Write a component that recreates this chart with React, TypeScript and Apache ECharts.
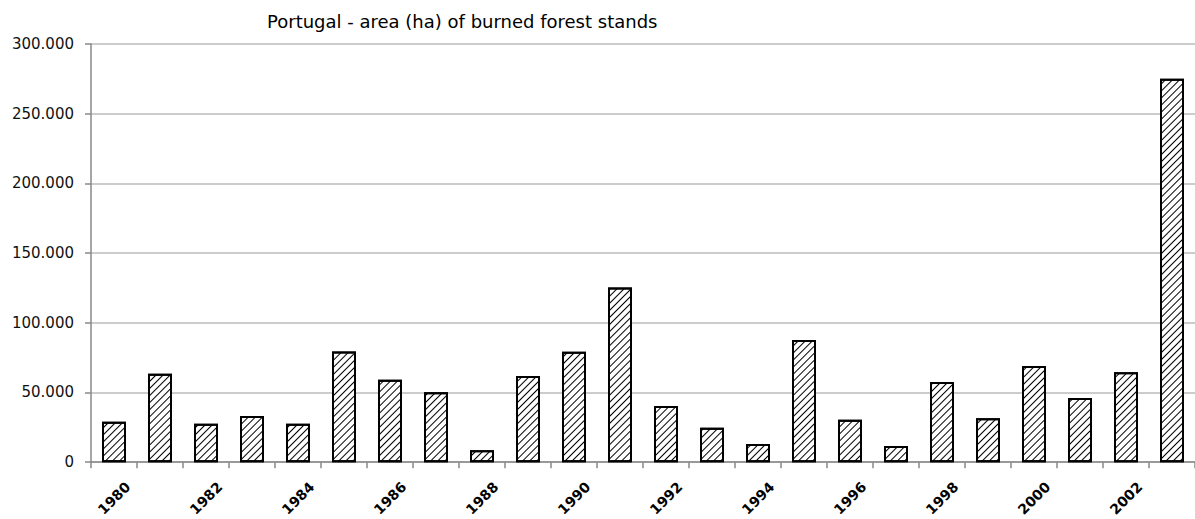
import React, { useEffect, useRef } from "react";
import * as echarts from "echarts";

const years: string[] = [
  "1980", "1981", "1982", "1983", "1984", "1985", "1986", "1987",
  "1988", "1989", "1990", "1991", "1992", "1993", "1994", "1995",
  "1996", "1997", "1998", "1999", "2000", "2001", "2002", "2003",
];

const burnedArea: number[] = [
  29000, 63400, 27600, 33100, 27500, 79300, 59100, 50200,
  8600, 61800, 79200, 125300, 40300, 24600, 13100, 87600,
  30500, 11500, 57500, 31500, 69000, 46100, 64500, 275000,
];

const titleText = "Portugal - area (ha) of burned forest stands";

export default function App() {
  const ref = useRef<HTMLDivElement>(null);
  useEffect(() => {
    if (!ref.current) return;
    const chart = echarts.init(ref.current, null, { renderer: "svg" });
    chart.setOption({
      animation: false,
      backgroundColor: "#fff",
      title: {
        text: titleText,
        left: 262,
        top: 7,
        textStyle: {
          fontFamily: "DejaVu Sans",
          fontSize: 18,
          fontWeight: "normal",
          color: "#000",
        },
      },
      grid: { left: 91, right: -12, top: 44, bottom: 56 },
      xAxis: {
        type: "category",
        data: years,
        axisLine: { show: true, lineStyle: { color: "#888", width: 1.5 } },
        axisTick: { show: true, interval: 0, length: 6, lineStyle: { color: "#888", width: 1.5 } },
        axisLabel: {
          interval: 1,
          rotate: 45,
          align: "center",
          verticalAlign: "middle",
          margin: 36,
          fontFamily: "DejaVu Sans",
          fontSize: 14,
          fontWeight: "bold",
          color: "#000",
        },
        splitLine: { show: false },
      },
      yAxis: {
        type: "value",
        min: 0,
        max: 300000,
        interval: 50000,
        axisLine: { show: true, lineStyle: { color: "#888", width: 1.5 } },
        axisTick: { show: true, length: 6, lineStyle: { color: "#888", width: 1.5 } },
        axisLabel: {
          margin: 17,
          fontFamily: "DejaVu Sans",
          fontSize: 15,
          color: "#111",
          formatter: (v: number) => (v === 0 ? "0" : `${v / 1000}.000`),
        },
        splitLine: { show: true, lineStyle: { color: "#bbb", width: 1.5 } },
      },
      series: [
        {
          type: "bar",
          data: burnedArea,
          barWidth: 24,
          itemStyle: {
            color: "#fff",
            borderColor: "#000",
            borderWidth: 2,
            decal: {
              symbol: "rect",
              symbolSize: 1,
              color: "#000",
              backgroundColor: "#fff",
              dashArrayX: [1, 0],
              dashArrayY: [1, 3.5],
              rotation: -Math.PI / 4,
            },
          },
        },
      ],
    });
    return () => chart.dispose();
  }, []);
  return (
    <div
      ref={ref}
      style={{ position: "absolute", left: 0, top: 0, width: 1195, height: 519 }}
    />
  );
}
